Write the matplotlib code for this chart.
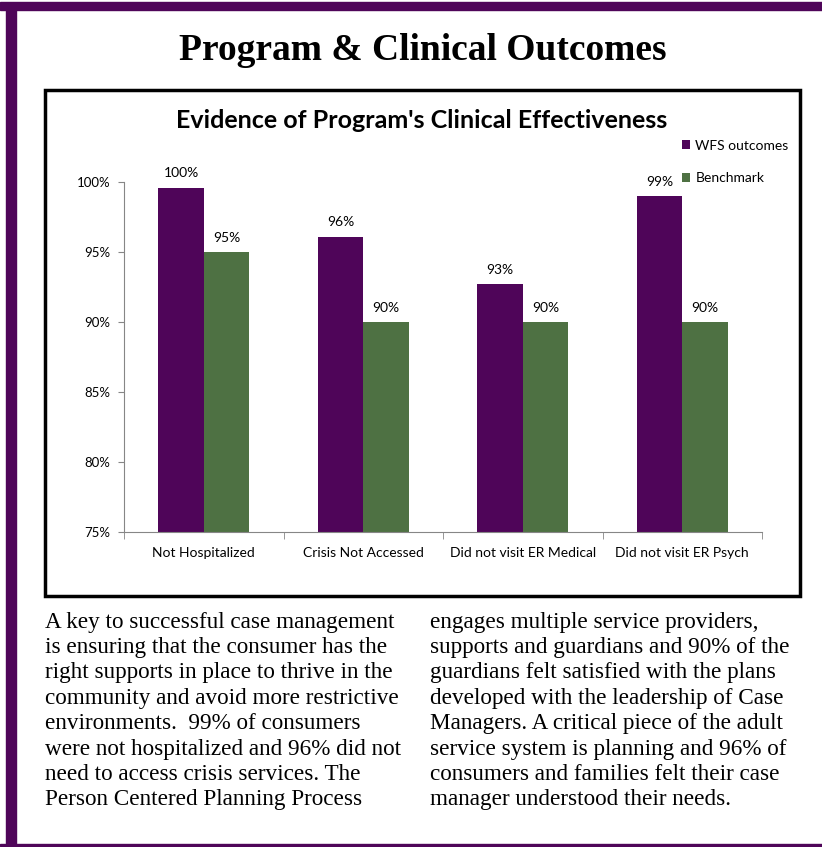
import matplotlib.pyplot as plt
from matplotlib.patches import Rectangle

# data
categories = ["Not Hospitalized", "Crisis Not Accessed", "Did not visit ER Medical", "Did not visit ER Psych"]
wfs_outcomes = [99.6, 96.1, 92.7, 99.0]
benchmark = [95, 90, 90, 90]
series_names = ["WFS outcomes", "Benchmark"]
y_ticks = [75, 80, 85, 90, 95, 100]

left_text = ["A key to successful case management",
             "is ensuring that the consumer has the",
             "right supports in place to thrive in the",
             "community and avoid more restrictive",
             "environments.  99% of consumers",
             "were not hospitalized and 96% did not",
             "need to access crisis services. The",
             "Person Centered Planning Process"]
right_text = ["engages multiple service providers,",
              "supports and guardians and 90% of the",
              "guardians felt satisfied with the plans",
              "developed with the leadership of Case",
              "Managers. A critical piece of the adult",
              "service system is planning and 96% of",
              "consumers and families felt their case",
              "manager understood their needs."]

purple = "#4f0559"
green = "#4e7143"
W, H = 822, 847

fig = plt.figure(figsize=(W/100, H/100), dpi=100)

def fx(x): return x / W
def fy(y): return 1 - y / H

# page frame
fig.patches.append(Rectangle((fx(0), fy(10)), 1, 8/H, transform=fig.transFigure, color=purple, zorder=0))
fig.patches.append(Rectangle((fx(6), fy(847)), 10/W, 837/H, transform=fig.transFigure, color=purple, zorder=0))
fig.patches.append(Rectangle((fx(0), fy(846)), 1, 2/H, transform=fig.transFigure, color=purple, zorder=0))

fig.text(fx(423), fy(50), "Program & Clinical Outcomes", ha="center", va="center",
         family="Liberation Serif", weight="bold", fontsize=27)

# chart box
fig.patches.append(Rectangle((fx(45), fy(596)), 755/W, 506/H, transform=fig.transFigure,
                             fill=False, edgecolor="black", lw=2.5, zorder=1))

fig.text(fx(422), fy(121), "Evidence of Program's Clinical Effectiveness", ha="center", va="center",
         family="Lato", weight="bold", fontsize=18)

ax = fig.add_axes([fx(124), fy(532), (762-124)/W, (532-182)/H])
x = list(range(len(categories)))
bw = 0.285
b1 = ax.bar([i - bw/2 for i in x], [v - 75 for v in wfs_outcomes], bw, bottom=75, color=purple, label=series_names[0])
b2 = ax.bar([i + bw/2 for i in x], [v - 75 for v in benchmark], bw, bottom=75, color=green, label=series_names[1])

for bars, vals in ((b1, wfs_outcomes), (b2, benchmark)):
    for b, v in zip(bars, vals):
        ax.annotate("%.0f%%" % v, (b.get_x() + b.get_width()/2, v), xytext=(0, 6),
                    textcoords="offset points", ha="center", va="bottom",
                    fontsize=10, family="Lato", annotation_clip=False)

ax.set_xlim(-0.5, 3.5)
ax.set_ylim(75, 100)
ax.set_yticks(y_ticks)
ax.set_yticklabels(["%d%%" % t for t in y_ticks], family="Lato", fontsize=9.5)
ax.set_xticks(x)
ax.set_xticklabels(categories, family="Lato", fontsize=10)
ax.set_xticks([i - 0.5 for i in range(len(categories) + 1)], minor=True)
ax.tick_params(axis="x", which="major", length=0, pad=11)
ax.tick_params(axis="x", which="minor", length=5, color="#868686")
ax.tick_params(axis="y", length=4, color="#868686", pad=6)
for s in ("top", "right"):
    ax.spines[s].set_visible(False)
for s in ("left", "bottom"):
    ax.spines[s].set_color("#868686")

fig.legend(handles=[b1, b2], labels=series_names, loc="upper left",
           bbox_to_anchor=(fx(669), fy(127)), frameon=False, handlelength=0.6,
           handleheight=0.6, handletextpad=0.4, labelspacing=1.5,
           prop={"family": "Lato", "size": 10})

for i, line in enumerate(left_text):
    fig.text(fx(45), fy(622 + i*25.4), line, ha="left", va="center",
             family="Liberation Serif", fontsize=16.7)
for i, line in enumerate(right_text):
    fig.text(fx(430), fy(622 + i*25.4), line, ha="left", va="center",
             family="Liberation Serif", fontsize=16.7)

fig.savefig("out.png", dpi=100)
